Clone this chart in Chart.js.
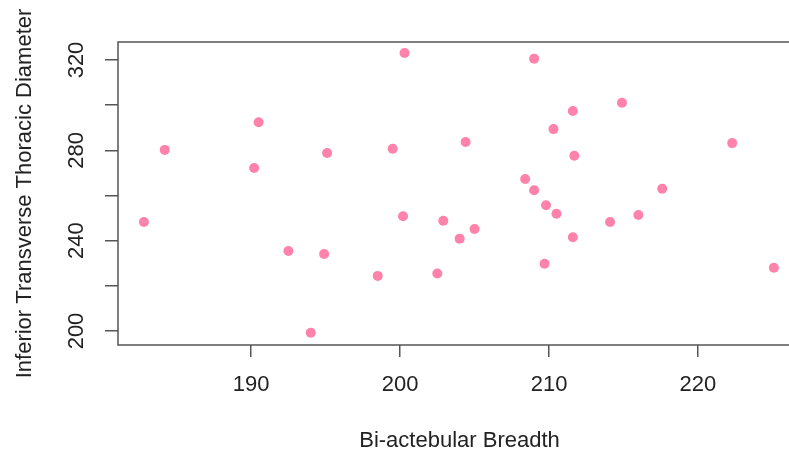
<!DOCTYPE html>
<html>
<head>
<meta charset="utf-8">
<script src="https://cdn.jsdelivr.net/npm/chart.js@4/dist/chart.umd.min.js"></script>
<style>
  html, body { margin: 0; padding: 0; background: #fff; overflow: hidden; }
  #wrap { width: 806px; height: 452px; }
</style>
</head>
<body>
<div id="wrap"><canvas id="c" width="806" height="452"></canvas></div>
<script>
// Bi-actebular breadth vs inferior transverse thoracic diameter
const breadth = [182.8, 184.2, 190.5, 190.2, 195.1, 192.5, 194.9, 194.0, 199.5, 200.3,
                 200.2, 202.9, 198.5, 202.5, 209.0, 214.9, 211.6, 210.3, 204.4, 222.3,
                 211.7, 208.4, 209.0, 217.6, 209.8, 210.5, 216.0, 214.1, 205.0, 204.0,
                 211.6, 209.7, 225.1];
const diameter = [248.3, 280.2, 292.4, 272.2, 278.8, 235.4, 234.1, 199.2, 280.7, 323.1,
                  250.8, 248.8, 224.4, 225.5, 320.6, 301.1, 297.4, 289.4, 283.7, 283.2,
                  277.6, 267.3, 262.3, 263.0, 255.7, 251.9, 251.4, 248.3, 245.2, 240.9,
                  241.5, 229.8, 228.0];
const xTicks = [190, 200, 210, 220];
const yLabels = [200, 240, 280, 320];

const points = breadth.map((b, i) => ({x: b, y: diameter[i]}));
const FONT = 'Liberation Sans, Arial, sans-serif';
const INK = '#222';
const AXIS = '#555';

// R style box round the plot and vertical y labels
const boxPlugin = {
  id: 'box',
  afterDraw(chart) {
    const ctx = chart.ctx, a = chart.chartArea;
    ctx.save();
    ctx.strokeStyle = AXIS;
    ctx.lineWidth = 1.5;
    ctx.strokeRect(a.left, a.top, a.right - a.left + 20, a.bottom - a.top);
    const ys = chart.scales.y;
    ctx.fillStyle = INK;
    ctx.font = '22px ' + FONT;
    ctx.textAlign = 'center';
    ctx.textBaseline = 'middle';
    yLabels.forEach(v => {
      const py = ys.getPixelForValue(v);
      ctx.save();
      ctx.translate(77, py);
      ctx.rotate(-Math.PI / 2);
      ctx.fillText(String(v), 0, 0);
      ctx.restore();
    });
    ctx.restore();
  }
};

new Chart(document.getElementById('c'), {
  type: 'scatter',
  data: {
    datasets: [{
      data: points,
      backgroundColor: '#FF82AB',
      borderWidth: 0,
      pointRadius: 5,
      pointHoverRadius: 5
    }]
  },
  options: {
    responsive: false,
    animation: false,
    layout: { padding: { top: 42, left: 0, right: 0, bottom: 0 } },
    plugins: { legend: { display: false }, tooltip: { enabled: false } },
    scales: {
      x: {
        type: 'linear',
        min: 181.06,
        max: 226.92,
        afterFit: s => { s.height = 107; },
        border: { display: false },
        grid: { drawOnChartArea: false, drawTicks: true, tickLength: 12, color: AXIS, lineWidth: 1.5 },
        afterBuildTicks: s => { s.ticks = xTicks.map(v => ({value: v})); },
        ticks: { color: INK, font: { family: FONT, size: 22 }, padding: 15, maxRotation: 0 },
        title: {
          display: true,
          text: 'Bi-actebular Breadth',
          color: INK,
          font: { family: FONT, size: 22, lineHeight: 1 },
          padding: { top: 1, bottom: 0 }
        }
      },
      y: {
        type: 'linear',
        min: 193.8,
        max: 327.97,
        afterFit: s => { s.width = 118; },
        border: { display: false },
        grid: { drawOnChartArea: false, drawTicks: true, tickLength: 13, color: AXIS, lineWidth: 1.5 },
        ticks: { stepSize: 20, includeBounds: false, display: false },
        title: {
          display: true,
          text: 'Inferior Transverse Thoracic Diameter',
          color: INK,
          font: { family: FONT, size: 22, lineHeight: 1.2 },
          padding: { top: 12, bottom: 0 }
        }
      }
    }
  },
  plugins: [boxPlugin]
});
</script>
</body>
</html>
